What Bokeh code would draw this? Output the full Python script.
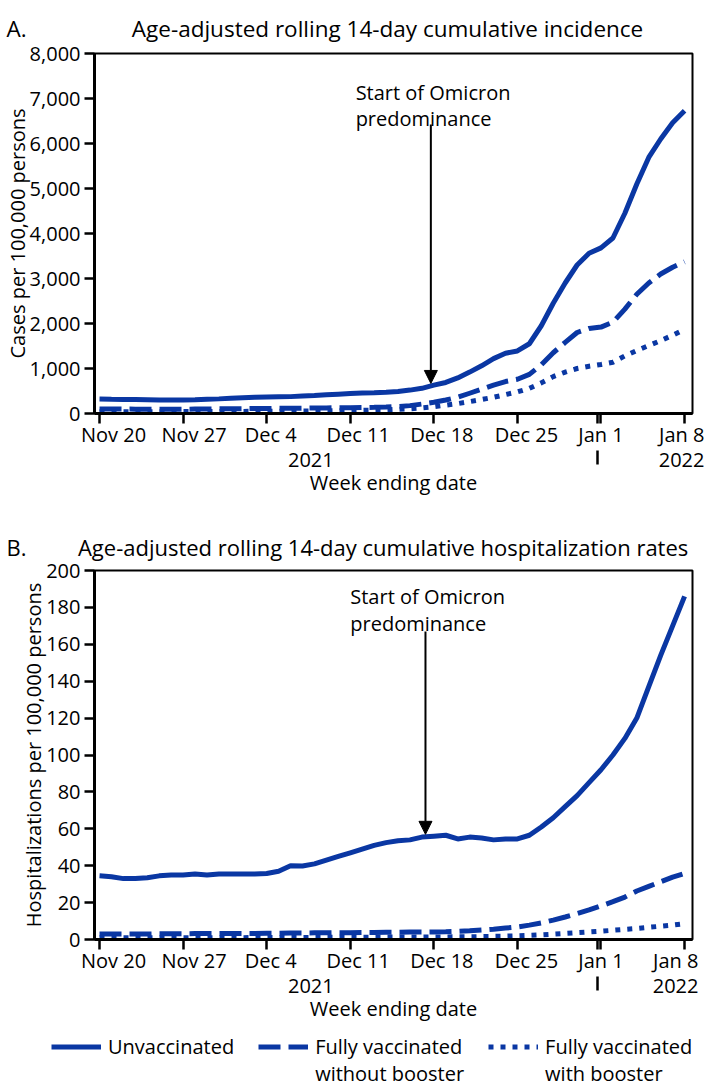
import numpy as np
import pandas as pd
from bokeh.plotting import figure
from bokeh.models import (ColumnDataSource, FixedTicker, LinearAxis, Range1d, Label,
                          Arrow, NormalHead, Legend, LegendItem, NumeralTickFormatter)
from bokeh.layouts import column
from bokeh.embed import file_html
from bokeh.resources import INLINE

# ------------------------------------------------------------------ data
START_DATE = "2021-11-20"
END_DATE = "2022-01-08"

# Panel A: age-adjusted rolling 14-day cumulative incidence (cases per 100,000)
incidence_unvaccinated = [
    320, 315, 312, 310, 305, 300, 300, 300, 305, 315, 325,                      # Nov 20-30
    340, 350, 360, 365, 370, 375, 390, 400, 415, 430, 445, 455, 460, 470, 490,  # Dec 1-15
    520, 560, 630, 690, 790, 920, 1060, 1220, 1340, 1390, 1550, 1950, 2450,     # Dec 16-28
    2900, 3300, 3560,                                                           # Dec 29-31
    3680, 3900, 4450, 5100, 5690, 6100, 6460, 6730]                             # Jan 1-8
incidence_no_booster = [
    100, 100, 98, 97, 96, 95, 95, 96, 98, 100, 103,
    106, 108, 110, 112, 114, 116, 118, 121, 124, 127, 130, 133, 137, 142, 155,
    175, 210, 250, 300, 360, 450, 540, 630, 710, 760, 870, 1080, 1350,
    1580, 1800, 1890,
    1920, 2030, 2320, 2650, 2900, 3100, 3250, 3370]
incidence_booster = [
    40, 40, 40, 40, 40, 40, 41, 42, 43, 44, 45,
    46, 47, 48, 50, 52, 54, 56, 58, 60, 63, 66, 70, 75, 82, 92,
    105, 125, 150, 185, 220, 265, 310, 360, 420, 480, 560, 680, 820,
    920, 1000, 1050,
    1090, 1140, 1280, 1400, 1510, 1620, 1740, 1870]

# Panel B: age-adjusted rolling 14-day cumulative hospitalization rates
hosp_unvaccinated = [
    34.5, 34, 33, 33, 33.5, 34.5, 35, 35, 35.5, 35, 35.5,
    35.5, 35.5, 35.5, 35.8, 37, 40, 39.8, 41, 43, 45, 47, 49, 51, 52.5, 53.5,
    54, 55.5, 56, 56.5, 54.5, 55.5, 55, 54, 54.5, 54.5, 56.5, 61, 66,
    72, 78, 85,
    92, 100, 109, 120, 137, 154, 170, 186]
hosp_no_booster = [
    3.0, 3.0, 3.0, 3.0, 3.0, 3.1, 3.1, 3.1, 3.2, 3.2, 3.2,
    3.3, 3.3, 3.3, 3.4, 3.4, 3.5, 3.5, 3.6, 3.6, 3.7, 3.7, 3.8, 3.8, 3.9, 3.9,
    4.0, 4.0, 4.1, 4.2, 4.4, 4.7, 5.1, 5.6, 6.2, 6.8, 7.8, 9.0, 10.5,
    12.2, 14.0, 16.0,
    18.2, 20.5, 23.0, 26.3, 28.8, 31.3, 33.8, 35.8]
hosp_booster = [
    1.0, 1.0, 1.0, 1.0, 1.0, 1.0, 1.0, 1.0, 1.0, 1.0, 1.0,
    1.0, 1.0, 1.1, 1.1, 1.1, 1.1, 1.1, 1.2, 1.2, 1.2, 1.2, 1.2, 1.3, 1.3, 1.3,
    1.3, 1.3, 1.4, 1.4, 1.5, 1.5, 1.6, 1.7, 1.8, 2.0, 2.2, 2.5, 2.9,
    3.3, 3.7, 4.1,
    4.5, 5.0, 5.5, 6.0, 6.6, 7.2, 7.8, 8.6]

series_names = ["Unvaccinated", "Fully vaccinated\nwithout booster",
                "Fully vaccinated\nwith booster"]

week_tick_dates = ["2021-11-20", "2021-11-27", "2021-12-04", "2021-12-11",
                   "2021-12-18", "2021-12-25", "2022-01-01", "2022-01-08"]
week_tick_labels = ["Nov 20", "Nov 27", "Dec 4", "Dec 11", "Dec 18", "Dec 25",
                    "Jan 1", "Jan 8"]
year_labels = ["2021", "2022"]

incidence_ticks = [0, 1000, 2000, 3000, 4000, 5000, 6000, 7000, 8000]
hosp_ticks = [0, 20, 40, 60, 80, 100, 120, 140, 160, 180, 200]

omicron_date = "2021-12-18"
omicron_text = ["Start of Omicron", "predominance"]

letter_a, title_a = "A.", "Age-adjusted rolling 14-day cumulative incidence"
letter_b, title_b = "B.", "Age-adjusted rolling 14-day cumulative hospitalization rates"
ylabel_a = "Cases per 100,000 persons"
ylabel_b = "Hospitalizations per 100,000 persons"
xlabel = "Week ending date"

# ------------------------------------------------------------------ style
FONT = "Open Sans"
FS = "20px"
BLUE = "#0a37a3"
WIDTH = 698
BORDER_LEFT = 88
FRAME_W = 598
PX_PER_DAY = 11.94
X_START = -0.42
LABEL_SHIFT_PX = [14, 11, 4, 8, 8, 9, 0, 1]
YEAR_LABEL_DAY = [17.7, 48.9]
YEAR_DIVIDER_DAY = 41.67
DASH = "22 8"
DOT = "5 7"
LINE_W = 5
NBSP = "\u00a0"
STYLES = [dict(), dict(line_dash=DASH), dict(line_dash=DOT)]
LEGEND_LEFT = 51      # px from the left edge of the legend strip


def days_since_start(d):
    return (pd.Timestamp(d) - pd.Timestamp(START_DATE)) / pd.Timedelta(days=1)


x_days = [days_since_start(d) for d in pd.date_range(START_DATE, END_DATE, freq="D")]
X_END = X_START + FRAME_W / PX_PER_DAY


def build_panel(letter, title, gap, title_fs, series, y_ticks, y_label, y_fmt, frame_h,
                border_top, border_bottom, title_standoff,
                arrow_shift, arrow_start, text_ys):
    p = figure(frame_width=FRAME_W, frame_height=frame_h,
               x_range=Range1d(X_START, X_END),
               y_range=Range1d(y_ticks[0], y_ticks[-1]),
               min_border_left=BORDER_LEFT, min_border_right=WIDTH - BORDER_LEFT - FRAME_W,
               min_border_top=border_top, min_border_bottom=border_bottom,
               toolbar_location=None, output_backend="svg",
               title=letter + NBSP * gap + title)
    p.title.text_font = FONT
    p.title.text_font_size = title_fs
    p.title.text_font_style = "normal"
    p.title.text_color = "black"
    p.title.align = "left"
    p.title.offset = -BORDER_LEFT
    p.title.standoff = title_standoff
    p.xgrid.visible = False
    p.ygrid.visible = False
    p.outline_line_color = "black"
    p.outline_line_width = 2
    p.outline_line_alpha = 1
    p.background_fill_color = "white"
    p.border_fill_color = "white"

    src = ColumnDataSource(dict(x=x_days, s0=series[0], s1=series[1], s2=series[2]))
    for i in range(3):
        p.line("x", f"s{i}", source=src, line_color=BLUE, line_width=LINE_W, **STYLES[i])

    # y axis
    ya = p.yaxis[0]
    ya.ticker = FixedTicker(ticks=y_ticks)
    if y_fmt:
        ya.formatter = NumeralTickFormatter(format=y_fmt)
    ya.major_tick_out = 10
    ya.major_tick_in = 0
    ya.minor_tick_out = 0
    ya.minor_tick_in = 0
    ya.major_tick_line_width = 2.5
    ya.major_tick_line_color = "black"
    ya.axis_line_width = 3
    ya.axis_line_color = "black"
    ya.major_label_standoff = 4
    ya.major_label_text_font = FONT
    ya.major_label_text_font_size = FS
    ya.major_label_text_color = "black"
    ya.axis_label = y_label
    ya.axis_label_text_font = FONT
    ya.axis_label_text_font_size = FS
    ya.axis_label_text_font_style = "normal"
    ya.axis_label_text_color = "black"
    ya.axis_label_standoff = -4

    # x axis (week ticks)
    tick_days = [days_since_start(d) for d in week_tick_dates]
    label_pos = [round(t + s / PX_PER_DAY, 4) for t, s in zip(tick_days, LABEL_SHIFT_PX)]
    xa = p.xaxis[0]
    xa.ticker = FixedTicker(ticks=label_pos, minor_ticks=tick_days + [YEAR_DIVIDER_DAY])
    xa.major_label_overrides = dict(zip(label_pos, week_tick_labels))
    xa.major_tick_out = 0
    xa.major_tick_in = 0
    xa.minor_tick_out = 10
    xa.minor_tick_in = 0
    xa.minor_tick_line_width = 2.5
    xa.minor_tick_line_color = "black"
    xa.axis_line_width = 3
    xa.axis_line_color = "black"
    xa.major_label_standoff = -3
    xa.major_label_text_font = FONT
    xa.major_label_text_font_size = FS
    xa.major_label_text_color = "black"

    # second axis: years + year divider + axis title
    xa2 = LinearAxis(ticker=FixedTicker(ticks=YEAR_LABEL_DAY, minor_ticks=[YEAR_DIVIDER_DAY]),
                     major_label_overrides=dict(zip(YEAR_LABEL_DAY, year_labels)),
                     axis_line_color=None, major_tick_out=0, major_tick_in=0,
                     minor_tick_out=14, minor_tick_in=0, minor_tick_line_width=2.5,
                     minor_tick_line_color="black",
                     major_label_standoff=-12, major_label_text_font=FONT,
                     major_label_text_font_size=FS, major_label_text_color="black",
                     axis_label=xlabel, axis_label_text_font=FONT,
                     axis_label_text_font_size=FS, axis_label_text_font_style="normal",
                     axis_label_text_color="black", axis_label_standoff=-1)
    p.add_layout(xa2, "below")

    # Omicron annotation
    ax_day = days_since_start(omicron_date) + arrow_shift
    y_span = y_ticks[-1] - y_ticks[0]
    tip = float(np.interp(ax_day, x_days, series[0])) + 2.5 * y_span / frame_h
    p.add_layout(Arrow(end=NormalHead(size=13, fill_color="black", line_color="black",
                                      line_width=1),
                       x_start=ax_day, y_start=arrow_start, x_end=ax_day, y_end=tip,
                       line_width=2, line_color="black"))
    for txt, ty in zip(omicron_text, text_ys):
        p.add_layout(Label(x=ax_day - 6.3, y=ty, text=txt, text_font=FONT,
                           text_font_size=FS, text_color="black",
                           text_baseline="alphabetic", text_align="left"))
    return p, src


pa, _ = build_panel(letter_a, title_a, 18, "22.5px",
                    [incidence_unvaccinated, incidence_no_booster, incidence_booster],
                    incidence_ticks, ylabel_a, "0,0", 360, 50, 93, 20,
                    -0.25, 6420, [7134, 6556])
pb, src_b = build_panel(letter_b, title_b, 9, "22px",
                        [hosp_unvaccinated, hosp_no_booster, hosp_booster],
                        hosp_ticks, ylabel_b, None, 369, 64, 92, 18,
                        -0.7, 167, [186, 171.2])

# legend strip under panel B: a separate root, so its frame spans the full width.
# Its key lines reuse panel B's data, which lies outside this strip's ranges.
pl = figure(width=WIDTH, height=56, x_range=Range1d(X_START, X_END), y_range=Range1d(-2, -1),
            min_border=0, x_axis_location=None, y_axis_location=None,
            toolbar_location=None, output_backend="svg", outline_line_color=None)
pl.xgrid.visible = False
pl.ygrid.visible = False
key_rs = [pl.line("x", f"s{i}", source=src_b, line_color=BLUE, line_width=LINE_W, **STYLES[i])
          for i in range(3)]
# a blank first line centres each key line on the first line of its label
legend_labels = [NBSP + "\n" + (n if "\n" in n else n + "\n" + NBSP) for n in series_names]
legend = Legend(items=[LegendItem(label=n, renderers=[r]) for n, r in zip(legend_labels, key_rs)],
                orientation="horizontal", location=(LEGEND_LEFT, 0),
                border_line_color=None, background_fill_alpha=0,
                label_text_font=FONT, label_text_font_size=FS, label_text_color="black",
                label_text_line_height=1.2,
                glyph_width=50, glyph_height=27, label_standoff=7, spacing=24,
                padding=0, margin=0)
pl.add_layout(legend)

open("out.html", "w").write(file_html([column(pa, pb), pl], INLINE))
